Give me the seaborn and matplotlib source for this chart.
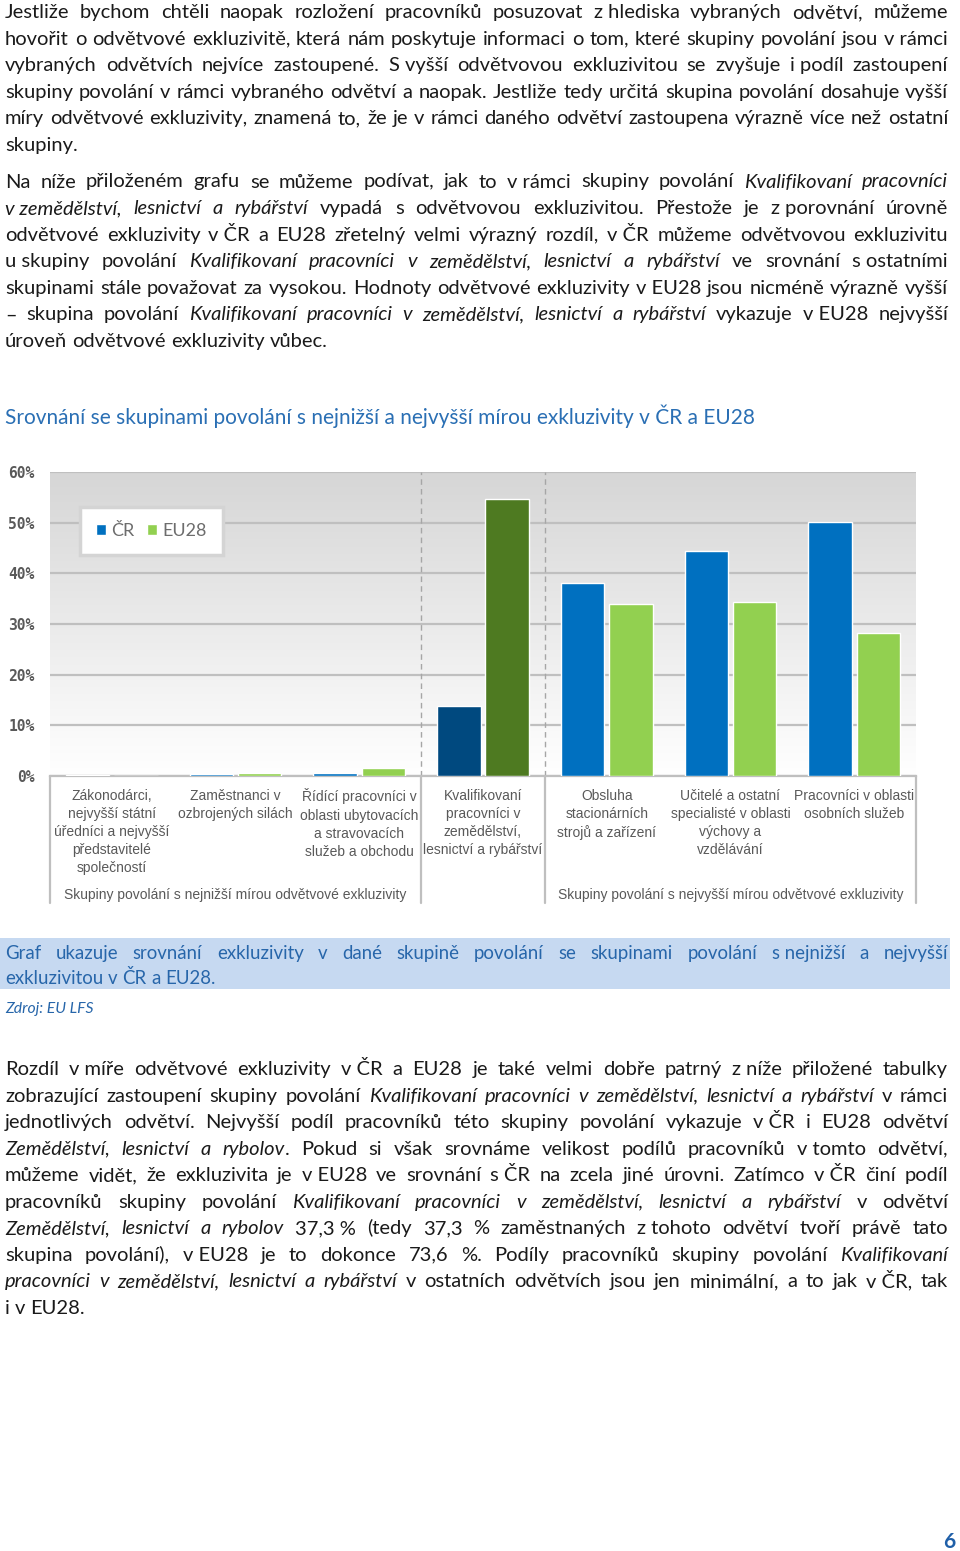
import numpy as np
import pandas as pd
import seaborn as sns
import matplotlib
matplotlib.use('Agg')
import matplotlib.pyplot as plt
from matplotlib.colors import LinearSegmentedColormap
from matplotlib.patches import Rectangle

# chart data (% of workers)
categories = [
    'Zákonodárci,\nnejvyšší státní\núředníci a nejvyšší\npředstavitelé\nspolečností',
    'Zaměstnanci v\nozbrojených silách',
    'Řídící pracovníci v\noblasti ubytovacích\na stravovacích\nslužeb a obchodu',
    'Kvalifikovaní\npracovníci v\nzemědělství,\nlesnictví a rybářství',
    'Obsluha\nstacionárních\nstrojů a zařízení',
    'Učitelé a ostatní\nspecialisté v oblasti\nvýchovy a\nvzdělávání',
    'Pracovníci v oblasti\nosobních služeb',
]
regions = ['ČR', 'EU28']
cr_values = [0.2, 0.3, 0.5, 13.9, 38.0, 44.4, 50.1]
eu_values = [0.0, 0.6, 1.6, 54.6, 33.9, 34.4, 28.2]
y_ticks = [0, 10, 20, 30, 40, 50, 60]
group_labels = ['Skupiny povolání s nejnižší mírou odvětvové exkluzivity',
                'Skupiny povolání s nejvyšší mírou odvětvové exkluzivity']
highlight = 3

chart_title = 'Srovnání se skupinami povolání s nejnižší a nejvyšší mírou exkluzivity v ČR a EU28'
source = 'Zdroj: EU LFS'
page_no = '6'

# page text, *...* = italic, ~ = non-breaking space
para1 = [
    'Jestliže bychom chtěli naopak rozložení pracovníků posuzovat z~hlediska vybraných odvětví, můžeme',
    'hovořit o odvětvové exkluzivitě, která nám poskytuje informaci o tom, které skupiny povolání jsou v~rámci',
    'vybraných odvětvích nejvíce zastoupené. S~vyšší odvětvovou exkluzivitou se zvyšuje i~podíl zastoupení',
    'skupiny povolání v rámci vybraného odvětví a naopak. Jestliže tedy určitá skupina povolání dosahuje vyšší',
    'míry odvětvové exkluzivity, znamená to, že je v rámci daného odvětví zastoupena výrazně více než ostatní',
    'skupiny.',
]
para2 = [
    'Na níže přiloženém grafu se můžeme podívat, jak to v~rámci skupiny povolání *Kvalifikovaní pracovníci*',
    '*v~zemědělství, lesnictví a rybářství* vypadá s odvětvovou exkluzivitou. Přestože je z~porovnání úrovně',
    'odvětvové exkluzivity v~ČR a EU28 zřetelný velmi výrazný rozdíl, v~ČR můžeme odvětvovou exkluzivitu',
    'u~skupiny povolání *Kvalifikovaní pracovníci v zemědělství, lesnictví a rybářství* ve srovnání s~ostatními',
    'skupinami stále považovat za vysokou. Hodnoty odvětvové exkluzivity v~EU28 jsou nicméně výrazně vyšší',
    '– skupina povolání *Kvalifikovaní pracovníci v zemědělství, lesnictví a rybářství* vykazuje v~EU28 nejvyšší',
    'úroveň odvětvové exkluzivity vůbec.',
]
caption = [
    'Graf ukazuje srovnání exkluzivity v dané skupině povolání se skupinami povolání s~nejnižší a nejvyšší',
    'exkluzivitou v ČR a EU28.',
]
para3 = [
    'Rozdíl v~míře odvětvové exkluzivity v~ČR a EU28 je také velmi dobře patrný z~níže přiložené tabulky',
    'zobrazující zastoupení skupiny povolání *Kvalifikovaní pracovníci v zemědělství, lesnictví a rybářství* v rámci',
    'jednotlivých odvětví. Nejvyšší podíl pracovníků této skupiny povolání vykazuje v~ČR i EU28 odvětví',
    '*Zemědělství, lesnictví a rybolov*. Pokud si však srovnáme velikost podílů pracovníků v~tomto odvětví,',
    'můžeme vidět, že exkluzivita je v~EU28 ve srovnání s~ČR na zcela jiné úrovni. Zatímco v~ČR činí podíl',
    'pracovníků skupiny povolání *Kvalifikovaní pracovníci v zemědělství, lesnictví a rybářství* v odvětví',
    '*Zemědělství, lesnictví a rybolov* 37,3~% (tedy 37,3 % zaměstnaných z~tohoto odvětví tvoří právě tato',
    'skupina povolání), v~EU28 je to dokonce 73,6 %. Podíly pracovníků skupiny povolání *Kvalifikovaní*',
    '*pracovníci v zemědělství, lesnictví a rybářství* v ostatních odvětvích jsou jen minimální, a to jak v~ČR, tak',
    'i~v EU28.',
]

W, H = 960, 1551
BODY = ['Lato', 'DejaVu Sans']
body_size = 14.5
ink = '#1a1a1a'
blue_text = '#2766aa'

sns.set_theme(style='white')
plt.rcParams['font.family'] = BODY

fig = plt.figure(figsize=(W / 100, H / 100), dpi=100)
renderer = fig.canvas.get_renderer()


def fx(x):
    return x / W


def fy(y):
    return 1 - y / H


def split_words(line):
    words = [[]]
    for i, seg in enumerate(line.split('*')):
        italic = i % 2 == 1
        parts = seg.replace('~', '\u00a0').split(' ')
        for j, p in enumerate(parts):
            if j > 0:
                words.append([])
            if p:
                words[-1].append((p, italic))
    return [w for w in words if w]


def text_width(t):
    return t.get_window_extent(renderer).width


def space_width(size):
    a = fig.text(0, 0, 'a a', fontsize=size)
    b = fig.text(0, 0, 'aa', fontsize=size)
    w = text_width(a) - text_width(b)
    a.remove()
    b.remove()
    return w


def put_line(line, baseline, justify, color=ink, size=body_size, left=5, right=948):
    words = split_words(line)
    placed = []
    for word in words:
        pieces = []
        w = 0
        for txt, it in word:
            t = fig.text(0, fy(baseline), txt, fontsize=size, color=color,
                         fontstyle='italic' if it else 'normal', va='baseline')
            pw = text_width(t)
            pieces.append((t, w))
            w += pw
        placed.append((pieces, w))
    total = sum(w for _, w in placed)
    if justify and len(placed) > 1:
        gap = (right - left - total) / (len(placed) - 1)
    else:
        gap = space_width(size)
    x = left
    for pieces, w in placed:
        for t, off in pieces:
            t.set_x(fx(x + off))
        x += w + gap


def put_paragraph(lines, first_baseline, pitch=26.55, color=ink, size=body_size):
    for k, line in enumerate(lines):
        put_line(line, first_baseline + k * pitch, k < len(lines) - 1, color=color, size=size)


put_paragraph(para1, 18)
put_paragraph(para2, 187.5)

fig.text(fx(5), fy(424), chart_title, fontsize=15, color='#2a6fb4', va='baseline')

fig.add_artist(Rectangle((0, fy(989)), fx(950), (989 - 938) / H,
                         transform=fig.transFigure, facecolor='#c6d9f1', edgecolor='none', zorder=0))
put_paragraph(caption, 959, pitch=25, color=blue_text, size=13.4)
fig.text(fx(5), fy(1013), source, fontsize=11.3, fontstyle='italic', color=blue_text, va='baseline')

put_paragraph(para3, 1075)

fig.text(fx(955), fy(1548), page_no, fontsize=15, fontweight='bold', color='#1f5fa8',
         ha='right', va='baseline')

# chart
ax = fig.add_axes([fx(50), fy(776), 866 / W, 304 / H])
df = pd.DataFrame({
    'skupina': categories * 2,
    'oblast': [regions[0]] * len(categories) + [regions[1]] * len(categories),
    'podil': cr_values + eu_values,
})
sns.barplot(data=df, x='skupina', y='podil', hue='oblast', palette=['#0070c0', '#92d050'],
            width=0.78, gap=0.1, saturation=1, ax=ax, zorder=3)
ax.containers[0][highlight].set_facecolor('#00497f')
ax.containers[1][highlight].set_facecolor('#4e7a21')

grad = np.linspace(0, 1, 256)[:, None]
ax.imshow(grad, extent=(-0.5, len(categories) - 0.5, 0, 60), origin='lower', aspect='auto',
          cmap=LinearSegmentedColormap.from_list('bg', ['#ffffff', '#d6d6d6']), zorder=0)

trans = ax.get_xaxis_transform()
bounds = [-0.5, 2.5, 3.5, len(categories) - 0.5]
for xv in bounds:
    ax.plot([xv, xv], [0, -0.418], transform=trans, color='#bfbfbf', lw=1.6, clip_on=False)
for xv in bounds[1:3]:
    ax.plot([xv, xv], [0, 1], transform=trans, color='#a6a6a6', lw=1, ls=(0, (4, 3)), zorder=2)
for xv, lab in zip([1.0, 5.0], group_labels):
    ax.text(xv, -0.391, lab, transform=trans, ha='center', va='center', fontsize=10,
            color='#595959', family='Liberation Sans')

ax.set_xlim(-0.5, len(categories) - 0.5)
ax.set_ylim(0, 60)
ax.set_axisbelow(True)
ax.yaxis.grid(True, color='#bfbfbf', lw=1.6)
for side in ['left', 'right', 'top']:
    ax.spines[side].set_visible(False)
ax.spines['bottom'].set_color('#bfbfbf')
ax.spines['bottom'].set_linewidth(1.6)

ax.set_yticks(y_ticks)
ax.set_yticklabels([f'{v}%' for v in y_ticks], family='DejaVu Sans Mono', fontweight='bold',
                   color='#595959', fontsize=10.5)
ax.tick_params(axis='y', length=0, pad=11)
ax.tick_params(axis='x', length=0, pad=9)
for lab in ax.get_xticklabels():
    lab.set_fontfamily('Liberation Sans')
    lab.set_fontsize(10)
    lab.set_color('#595959')
    lab.set_linespacing(1.38)
ax.set_xlabel('')
ax.set_ylabel('')

handles, labels = ax.get_legend_handles_labels()
leg = ax.legend(handles, labels, ncol=2, loc='upper left', bbox_to_anchor=(0.0346, 0.885),
                borderaxespad=0, frameon=True, fancybox=False, edgecolor='#d4d4d4',
                framealpha=1, handlelength=0.55, handleheight=0.55, handletextpad=0.25,
                columnspacing=0.75, fontsize=13, labelcolor='#6d6d6d', borderpad=0.9)
leg.get_frame().set_linewidth(2.5)

fig.savefig('out.png', dpi=100)
